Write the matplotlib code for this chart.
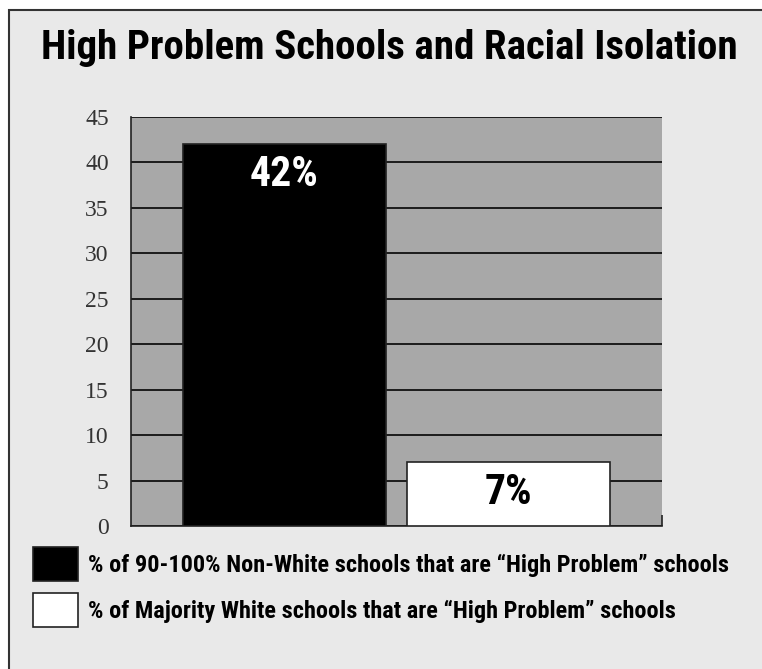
import matplotlib
matplotlib.use("Agg")
import matplotlib.pyplot as plt
from matplotlib.patches import Rectangle, Patch

# share of schools flagged as "High Problem", by racial composition
categories = ["90-100% Non-White", "Majority White"]
values = [42, 7]
bar_labels = ["42%", "7%"]
legend_labels = [
    "% of 90-100% Non-White schools that are \u201cHigh Problem\u201d schools",
    "% of Majority White schools that are \u201cHigh Problem\u201d schools",
]
yticks = [0, 5, 10, 15, 20, 25, 30, 35, 40, 45]
title = "High Problem Schools and Racial Isolation"

COND = ["Roboto Condensed", "Barlow Semi Condensed", "Asap Condensed",
        "DejaVu Sans"]
SERIF = ["Liberation Serif", "DejaVu Serif"]

fig = plt.figure(figsize=(7.62, 6.69), dpi=100)
fig.patch.set_facecolor("white")

# light grey panel with a dark frame, running off the right and bottom edges
fig.patches.append(Rectangle((9 / 762, -0.1), 1.2, 1.1 - 10 / 669,
                             transform=fig.transFigure, facecolor="#e9e9e9",
                             edgecolor="#333333", linewidth=1.5, zorder=-10))

fig.text(389 / 762, 1 - 59 / 669, title, ha="center", va="baseline",
         family=COND, weight=900, fontsize=29.5, color="black")

ax = fig.add_axes([131 / 762, 1 - 526 / 669, 531 / 762, 409 / 669])
ax.set_facecolor("#a8a8a8")

x = list(range(len(values)))
colors = ["black", "white"]
bars = ax.bar(x, values, width=0.906, color=colors, edgecolor="#222222",
              linewidth=1.2, zorder=3)

ax.set_xlim(-0.685, 1.685)
ax.set_ylim(0, 45)
ax.set_yticks(yticks)
ax.set_yticklabels([str(t) for t in yticks], family=SERIF, fontsize=17,
                   color="#333333")
ax.tick_params(axis="y", length=0, pad=16)
ax.set_xticks([1.685])
ax.set_xticklabels([""])
ax.tick_params(axis="x", direction="in", length=8, width=1.2, color="#222222")
ax.yaxis.grid(True, color="#111111", linewidth=1.3, zorder=1)
ax.set_axisbelow(True)

for side in ["top", "right"]:
    ax.spines[side].set_visible(False)
for side in ["left", "bottom"]:
    ax.spines[side].set_color("#222222")
    ax.spines[side].set_linewidth(1.2)

# value labels inside the bars, baseline a fixed step below each bar top
label_colors = ["white", "black"]
for xi, v, lab, c in zip(x, values, bar_labels, label_colors):
    ax.text(xi, v - 4.6, lab, ha="center", va="baseline", family=COND,
            weight=900, fontsize=30, color=c, zorder=4)

handles = [Patch(facecolor=c, edgecolor="#222222", linewidth=1.2)
           for c in colors]
fig.legend(handles, legend_labels, loc="upper left",
           bbox_to_anchor=(33 / 762, 1 - 547 / 669), frameon=False,
           prop={"family": COND, "weight": "bold", "size": 17.5},
           handlelength=1.85, handleheight=1.78, handletextpad=0.41,
           labelspacing=0.49, borderpad=0, borderaxespad=0)

fig.savefig("out.png", dpi=100, facecolor=fig.get_facecolor())
